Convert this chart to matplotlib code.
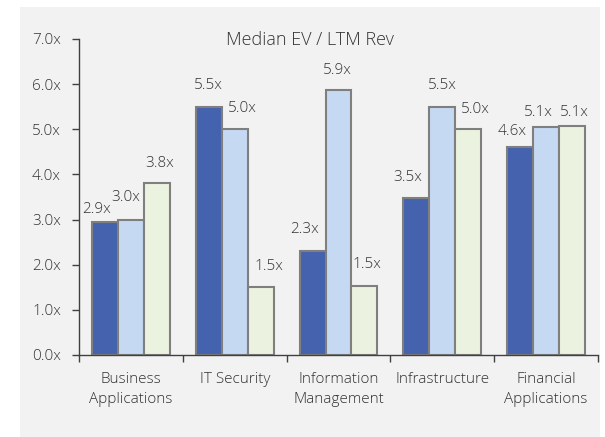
import matplotlib
matplotlib.use("Agg")
import matplotlib.pyplot as plt
import numpy as np
from matplotlib.patches import Rectangle

plt.rcParams['font.family'] = ['Open Sans', 'DejaVu Sans']
plt.rcParams['font.weight'] = 'light'

categories = ["Business\nApplications", "IT Security", "Information\nManagement",
              "Infrastructure", "Financial\nApplications"]
series_a = [2.94, 5.50, 2.31, 3.48, 4.61]
series_b = [2.98, 5.00, 5.87, 5.50, 5.06]
series_c = [3.80, 1.50, 1.52, 5.00, 5.08]
yticks = [0, 1, 2, 3, 4, 5, 6, 7]
title = "Median EV / LTM Rev"

# label offsets in pixels (dx, dy of label centre above bar top)
offs_a = [(-8, 13), (0, 21), (-8, 21), (-9, 20), (-8, 15)]
offs_b = [(-5.5, 23), (7.5, 21), (-1, 20), (0, 21), (-8, 14)]
offs_c = [(2.5, 20), (8, 21), (2.5, 22), (7, 20), (2, 13.5)]

W, H = 605, 437
fig = plt.figure(figsize=(W / 100, H / 100), dpi=100)
fig.patch.set_facecolor("white")
fig.patches.append(Rectangle((20 / W, 0), 580 / W, (H - 7) / H, transform=fig.transFigure,
                             facecolor="#f2f2f2", edgecolor="none", zorder=-5))

ax = fig.add_axes([79 / W, 1 - 355 / H, (598 - 79) / W, (355 - 39) / H])
ax.set_facecolor("none")
ax.set_zorder(2)

x = np.arange(len(categories))
bw = 0.25
colors = ["#4462ad", "#c6d9f2", "#ebf2e0"]
edge = "#7f7f7f"
txtc = "#333333"
fs = 11
for i, (vals, offs) in enumerate(zip([series_a, series_b, series_c], [offs_a, offs_b, offs_c])):
    xs = x + (i - 1) * bw
    ax.bar(xs, vals, width=bw, color=colors[i], edgecolor=edge, linewidth=1.5, zorder=2)
    for xi, v, (dx, dy) in zip(xs, vals, offs):
        ax.annotate(f"{v:.1f}x", (xi, v), xytext=(dx, dy), textcoords="offset pixels",
                    ha="center", va="center", fontsize=fs, color=txtc)

ax.set_xlim(-0.5, len(categories) - 0.5)
ax.set_ylim(0, 7)
ax.set_yticks(yticks)
ax.set_yticklabels([f"{t:.1f}x" for t in yticks])
ax.set_xticks(x)
ax.set_xticklabels(categories, linespacing=1.5)
ax.set_xticks(np.arange(len(categories) + 1) - 0.5, minor=True)
ax.tick_params(axis="x", which="major", length=0, pad=12, labelsize=fs, labelcolor=txtc)
ax.tick_params(axis="x", which="minor", length=5, width=1, color="#404040")
ax.tick_params(axis="y", length=5, width=1, color="#404040", pad=8, labelsize=fs, labelcolor=txtc)
for s in ["top", "right"]:
    ax.spines[s].set_visible(False)
for s in ["left", "bottom"]:
    ax.spines[s].set_color("#404040")
    ax.spines[s].set_linewidth(1)
    ax.spines[s].set_zorder(3)

fig.text(310 / W, 1 - 40 / H, title, ha="center", va="center", fontsize=13, color=txtc)

fig.savefig("out.png", dpi=100, facecolor=fig.get_facecolor())
